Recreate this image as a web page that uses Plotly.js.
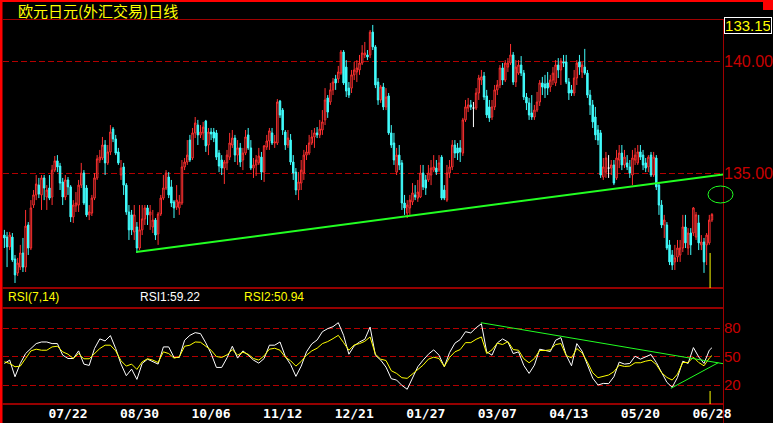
<!DOCTYPE html>
<html>
<head>
<meta charset="utf-8">
<script src="https://cdn.plot.ly/plotly-3.0.1.min.js"></script>
<style>
html,body{margin:0;padding:0;background:#000;}
#chart{width:773px;height:423px;}
</style>
</head>
<body>
<div id="chart"></div>
<script>
// ---------------- data ----------------
const title = '欧元日元(外汇交易)日线';
const lastPriceLabel = '133.15';
const tickIdx = [24, 51, 78, 105, 132, 159, 186, 213, 240, 267];
const tickLabels = ['07/22','08/30','10/06','11/12','12/21','01/27','03/07','04/13','05/20','06/28'];

const open = [
132.23,132.14,131.70,132.14,131.16,130.54,130.80,131.43,130.80,132.68,
131.65,133.57,134.02,134.46,134.02,134.78,133.93,134.33,133.93,135.13,
135.54,135.31,134.60,133.93,134.69,134.38,133.04,133.53,133.57,134.46,
135.00,134.33,133.13,133.21,133.88,134.78,135.58,135.67,136.25,135.45,
135.94,136.96,136.52,135.94,134.91,135.27,134.46,133.26,133.13,132.37,
132.59,131.65,132.46,132.95,133.44,133.13,132.59,132.90,132.28,133.17,
133.88,134.33,134.82,134.38,133.71,133.48,133.44,133.66,135.27,135.49,
136.47,135.67,136.79,137.14,136.70,136.79,137.32,136.25,136.83,136.83,
136.79,135.89,135.58,135.22,135.45,135.71,136.25,136.56,135.80,136.12,
135.58,135.89,136.70,136.12,135.22,135.36,135.45,135.71,135.04,136.16,
136.43,136.79,136.34,136.34,138.21,137.81,136.83,136.25,136.47,135.49,
135.04,134.24,134.55,135.00,135.80,135.89,136.34,136.61,136.79,136.70,
136.92,137.37,138.35,138.17,138.71,139.20,139.20,139.46,140.40,139.73,
138.79,138.79,139.38,139.51,139.60,139.91,140.27,140.27,140.27,141.29,
140.63,139.06,138.26,138.84,137.95,138.44,136.79,136.34,135.04,135.80,
135.45,133.66,133.21,133.44,133.71,134.02,133.88,133.93,135.00,134.69,
134.69,134.91,135.13,135.22,135.13,135.71,134.24,133.79,135.00,135.27,
136.25,136.12,136.12,135.89,137.37,137.90,138.04,137.90,137.90,138.57,
139.15,139.33,138.44,137.95,137.50,137.95,138.71,138.93,139.69,139.15,
139.73,139.91,140.27,139.06,139.46,139.82,139.46,138.39,138.13,137.68,
137.50,137.81,138.17,139.02,138.97,139.02,138.84,139.15,139.02,139.82,
139.60,139.96,139.96,139.06,138.71,138.57,139.24,139.96,139.51,139.73,
139.46,138.48,138.04,137.50,136.92,136.79,134.82,135.04,135.22,135.22,
135.36,134.78,135.58,135.89,135.36,135.45,135.27,134.91,135.58,135.45,
135.94,135.80,135.45,135.27,135.80,134.91,135.67,134.46,133.57,132.68,
132.68,131.79,131.34,131.03,131.25,131.34,131.65,132.59,131.65,132.32,
132.32,132.14,132.77,131.79,131.92,131.79,131.88,132.90];

const high = [
132.46,132.37,132.37,132.32,131.34,131.21,131.79,132.10,133.35,132.81,
133.79,134.24,134.91,134.78,134.91,134.91,134.46,134.91,135.36,135.76,
135.80,135.45,134.78,134.91,134.82,134.46,133.79,134.15,134.69,135.45,
135.13,134.46,133.57,134.02,135.00,135.80,136.03,136.61,136.47,136.25,
137.14,137.05,136.70,136.12,135.58,135.45,134.55,133.57,133.35,133.57,
132.81,133.57,133.57,133.57,133.57,133.57,133.35,132.99,133.26,134.02,
134.91,135.13,135.04,134.69,133.79,134.46,134.02,135.58,135.67,136.47,
136.70,137.01,137.50,137.37,137.14,137.28,137.37,137.01,137.01,137.01,
136.92,136.03,135.80,135.58,136.03,136.79,136.92,136.70,136.47,136.34,
136.12,136.92,137.01,136.47,135.67,135.80,136.12,135.94,136.25,136.70,
137.01,137.01,136.70,138.30,138.26,137.90,136.92,136.92,136.74,135.80,
135.22,135.04,135.58,136.03,136.25,136.70,136.92,137.01,137.05,137.37,
137.81,138.79,138.48,139.02,139.24,139.38,139.78,140.49,140.49,140.04,
139.06,139.60,139.96,140.04,140.27,140.71,140.85,140.49,141.38,141.61,
140.71,139.24,138.93,139.02,138.79,138.57,137.14,136.79,136.12,136.25,
135.58,134.02,133.79,134.02,134.55,134.46,134.69,135.36,135.36,134.91,
135.36,135.58,135.80,135.58,135.80,135.80,134.46,135.36,135.58,136.47,
136.47,136.34,136.47,137.46,138.26,138.35,138.26,138.17,138.79,139.38,
139.60,139.51,138.71,138.26,138.26,138.93,139.15,139.82,139.91,140.04,
140.13,140.76,140.40,140.04,140.04,140.22,139.60,138.57,138.35,138.48,
138.04,138.62,139.15,139.29,139.38,139.51,139.38,139.73,140.04,140.13,
140.13,140.27,140.27,139.24,138.93,139.60,140.04,140.27,139.96,140.54,
139.60,138.71,138.26,137.95,137.14,136.92,135.67,135.94,135.80,135.58,
135.58,136.03,136.25,136.25,136.03,135.80,135.58,136.03,136.12,136.25,
136.25,136.03,135.67,135.80,135.94,135.94,135.80,134.60,133.79,133.13,
132.81,132.01,131.56,131.79,132.01,132.01,133.13,133.13,132.54,132.54,
133.48,133.26,133.13,132.23,132.10,132.32,133.13,133.21];

const low = [
131.65,130.80,131.56,131.03,130.09,130.40,130.67,130.58,130.58,131.34,
131.56,133.44,133.79,133.88,133.35,133.79,133.35,133.79,133.57,135.04,
135.04,134.24,133.57,133.79,134.02,132.81,132.77,133.26,133.26,134.33,
133.57,133.04,132.90,133.08,133.79,134.69,135.45,135.58,134.91,135.36,
135.80,136.38,135.80,135.36,134.69,134.02,133.13,132.01,132.23,132.01,
131.43,131.56,132.23,132.68,132.68,132.46,132.32,132.01,131.79,133.08,
133.79,134.24,133.88,133.48,132.99,133.35,133.13,133.57,135.13,135.36,
135.49,135.58,136.56,136.25,136.56,136.47,135.94,135.80,136.47,136.38,
135.58,135.04,134.91,134.51,135.13,135.58,136.12,135.49,135.36,135.27,
135.13,135.80,136.03,135.13,134.78,134.87,135.36,134.69,134.60,136.03,
136.03,136.25,136.12,136.25,137.46,136.70,136.03,136.12,135.36,134.69,
134.02,133.79,134.24,134.69,135.58,135.80,136.25,136.12,136.56,136.56,
136.70,137.14,137.46,138.04,138.48,138.71,139.02,139.38,138.93,138.39,
138.35,138.57,139.15,139.06,139.38,139.82,140.13,140.04,140.13,140.49,
138.79,138.04,138.13,137.81,137.81,136.70,136.12,135.36,134.91,135.13,
133.35,133.13,132.99,133.13,133.57,133.79,133.71,133.88,134.24,134.02,
134.60,134.46,135.04,134.91,135.04,133.79,133.79,133.71,134.78,135.13,
135.67,135.58,135.49,135.76,137.28,137.72,137.81,137.05,137.81,138.26,
138.93,138.26,137.46,137.28,137.37,137.81,138.48,138.79,138.93,139.06,
139.51,139.82,138.93,138.84,139.38,139.33,138.26,137.81,137.37,137.37,
137.37,137.72,137.99,138.48,138.35,138.48,138.62,138.93,138.88,139.24,
138.93,139.73,138.97,138.26,138.44,138.44,138.93,139.38,139.24,139.38,
138.35,137.59,137.01,136.47,136.25,134.78,134.69,134.78,134.78,134.91,
134.46,134.69,135.22,135.13,135.22,135.13,134.78,134.46,135.36,135.36,
135.58,135.13,135.04,135.04,134.82,134.82,134.24,133.13,132.54,132.10,
131.56,130.89,130.67,130.67,131.03,131.03,131.47,131.65,131.34,131.34,
132.19,132.01,131.56,131.56,130.54,130.89,131.79,132.81];

const close = [
132.10,131.70,132.23,131.12,130.45,130.98,131.43,130.80,132.63,131.65,
133.44,134.02,134.51,134.06,134.78,134.33,134.24,133.88,135.13,135.54,
135.27,134.55,133.93,134.69,134.38,133.04,133.57,133.66,134.46,135.00,
133.66,133.13,133.26,133.88,134.78,135.63,135.71,136.25,135.45,135.94,
136.83,136.52,135.89,135.45,135.22,134.46,133.26,132.46,132.46,133.13,
131.65,132.46,132.95,133.44,133.13,133.26,132.90,132.23,133.17,133.88,
134.33,135.00,134.02,133.66,133.44,133.79,133.71,135.27,135.49,135.80,
135.58,136.79,137.23,136.70,136.83,137.05,136.21,136.83,136.74,136.56,
135.71,135.31,135.22,135.49,135.80,136.34,136.56,135.80,136.12,135.49,
135.89,136.61,136.12,135.22,135.36,135.58,135.76,135.04,136.21,136.43,
136.88,136.34,136.38,138.17,137.59,136.92,136.25,136.56,135.49,135.00,
134.24,134.60,135.13,135.80,135.94,136.34,136.61,136.79,136.70,136.96,
137.28,138.26,137.72,138.71,139.06,139.02,139.51,140.40,139.02,138.66,
138.48,139.38,139.60,139.69,139.91,140.36,140.36,140.18,141.29,140.63,
138.93,138.26,138.84,137.95,138.39,136.79,136.25,135.58,135.80,135.36,
133.66,133.44,133.57,133.79,134.11,133.93,134.15,135.00,134.38,134.33,
135.00,135.22,135.27,135.04,135.45,133.88,133.88,135.00,135.27,136.25,
135.89,135.89,135.94,137.37,137.95,138.04,137.95,137.90,138.57,139.24,
139.29,138.39,137.59,137.46,137.95,138.71,138.93,139.69,139.15,139.91,
139.91,140.27,139.06,139.73,139.82,139.46,138.39,138.13,137.59,137.50,
137.81,138.17,139.02,138.84,138.79,138.79,139.15,139.46,139.82,139.60,
140.00,139.91,139.06,138.57,138.57,139.24,139.91,139.73,139.82,139.46,
138.48,138.04,137.28,136.70,136.47,134.91,135.27,135.67,135.22,135.36,
134.55,135.67,135.89,135.36,135.71,135.27,135.00,135.67,135.80,135.94,
135.71,135.36,135.22,135.71,134.91,135.71,134.38,133.57,132.68,132.90,
131.65,131.03,130.89,131.21,131.65,131.65,132.59,131.88,132.32,131.79,
133.44,133.13,131.88,131.92,131.03,132.23,132.90,133.15];

// RSI readings at every second session (last one at the final session)
const rsiIdx = [];
for (let k = 0; k <= 266; k += 2) rsiIdx.push(k);
rsiIdx.push(267);
const rsi1 = [
42.7,46.2,28.7,42.7,53.1,58.4,63.6,65.3,65.3,63.6,
63.6,51.4,47.9,47.9,55.9,42.0,40.6,58.4,68.5,66.4,
72.0,58.4,42.0,29.8,36.7,25.9,42.7,47.2,44.8,42.0,
60.1,60.1,49.0,49.0,67.1,72.3,75.1,74.1,64.3,53.1,
38.5,38.5,48.6,60.8,48.3,55.9,51.4,46.2,43.0,47.9,
61.9,61.9,65.3,50.0,41.6,29.1,39.9,54.9,63.3,67.4,
76.1,79.3,81.4,85.6,72.3,52.4,61.2,65.3,68.1,81.0,
51.4,46.2,38.8,26.6,25.2,19.6,15.5,26.6,39.2,46.2,
52.4,57.0,51.4,39.2,54.2,64.0,67.8,76.1,74.8,80.3,
84.5,54.9,51.4,64.3,68.5,65.3,53.1,54.9,40.6,32.2,
40.9,57.7,56.6,55.2,67.1,69.9,51.4,40.2,63.6,55.6,
41.3,27.3,20.0,21.7,21.4,28.7,44.1,42.0,42.7,50.3,
47.2,49.6,52.1,43.7,32.9,22.8,17.6,28.0,45.1,42.7,
59.4,49.6,42.7,56.6,59.22];
const rsi2 = [
44.4,42.7,39.2,39.9,47.9,55.9,57.7,56.6,56.6,60.1,
60.8,54.9,52.4,47.9,53.1,47.6,47.6,53.1,58.4,61.9,
61.9,55.9,45.5,39.9,42.0,36.4,44.4,47.6,46.2,43.7,
54.9,53.1,48.3,49.6,60.8,61.9,65.3,65.0,60.8,56.6,
50.0,49.0,51.7,57.3,51.4,54.5,52.4,47.9,46.2,50.7,
57.7,58.7,56.6,49.3,45.5,39.9,44.8,51.4,55.9,58.7,
63.6,65.7,68.8,72.3,64.6,56.6,62.2,63.6,66.0,70.6,
52.4,47.2,45.8,35.0,32.2,27.7,27.0,31.5,36.7,40.9,
47.2,49.3,47.9,39.5,49.0,54.9,57.3,64.6,64.6,68.1,
70.6,53.1,57.0,64.0,62.6,65.7,57.3,56.6,47.6,43.4,
47.9,56.3,56.3,57.0,62.6,63.6,51.0,48.6,58.4,53.8,
44.1,32.9,27.7,28.7,30.5,34.0,40.9,39.5,39.9,43.4,
43.4,45.1,46.2,41.6,32.9,28.0,25.2,31.5,43.7,43.7,
49.3,43.7,40.2,48.3,50.94];

// drawn trend lines
const trendX = [49.7, 272.3];
const trendY = [131.47, 134.955];
const rsiTrendX = [179.8, 272.6];
const rsiTrendY = [85.6, 41.8];
const rsiTrend2X = [251.5, 269.4];
const rsiTrend2Y = [16.5, 43.5];
const cursorIdx = 266.3;
const cursorPriceTop = 131.43;
const cursorRsiTop = 13.7;

// ---------------- layout geometry ----------------
const W = 773, H = 423, ML = 3, MR = 50, MT = 0, MB = 19;
const PW = W - ML - MR, PH = H - MT - MB;
const px = v => (v - ML) / PW;
const py = v => 1 - (v - MT) / PH;

const RED = '#ff0000', DRED = '#a00000', MRED = '#c80000';
const UPC = '#ff3030', DNC = '#40fcfc';

const all = close.map((_, i) => i);
const norm = all.filter(i => open[i] !== close[i]);
const doji = all.filter(i => open[i] === close[i]);
const pick = (arr, ids) => ids.map(i => arr[i]);

const data = [
  {type:'candlestick', x: norm, open: pick(open,norm), high: pick(high,norm), low: pick(low,norm), close: pick(close,norm),
   xaxis:'x', yaxis:'y', whiskerwidth:0,
   increasing:{line:{color:UPC,width:1}, fillcolor:'#000000'},
   decreasing:{line:{color:DNC,width:1}, fillcolor:DNC}, hoverinfo:'skip'},
  {type:'candlestick', x: doji, open: pick(open,doji), high: pick(high,doji), low: pick(low,doji), close: pick(close,doji),
   xaxis:'x', yaxis:'y', whiskerwidth:0,
   increasing:{line:{color:'#ffffff',width:1}, fillcolor:'#ffffff'},
   decreasing:{line:{color:'#ffffff',width:1}, fillcolor:'#ffffff'}, hoverinfo:'skip'},
  {type:'scatter', mode:'lines', x: trendX, y: trendY, xaxis:'x', yaxis:'y',
   line:{color:'#22ff22', width:2}, hoverinfo:'skip'},
  {type:'scatter', mode:'lines', x: rsiIdx, y: rsi1, xaxis:'x', yaxis:'y2',
   line:{color:'#ffffff', width:1}, hoverinfo:'skip'},
  {type:'scatter', mode:'lines', x: rsiIdx, y: rsi2, xaxis:'x', yaxis:'y2',
   line:{color:'#ffff00', width:1}, hoverinfo:'skip'},
  {type:'scatter', mode:'lines', x: rsiTrendX, y: rsiTrendY, xaxis:'x', yaxis:'y2',
   line:{color:'#22ff22', width:1}, hoverinfo:'skip'},
  {type:'scatter', mode:'lines', x: rsiTrend2X, y: rsiTrend2Y, xaxis:'x', yaxis:'y2',
   line:{color:'#22ff22', width:1}, hoverinfo:'skip'}
];

const gridStyle = {showgrid:true, gridcolor:'#b40000', griddash:'6px,3px', gridwidth:1,
  zeroline:false, showline:false, ticks:'', side:'right', fixedrange:true};

const layout = {
  width: W, height: H,
  margin: {l:ML, r:MR, t:MT, b:MB, pad:0},
  paper_bgcolor:'#000000', plot_bgcolor:'#000000',
  showlegend:false, hovermode:false, dragmode:false,
  boxgap: 0.2,
  xaxis: {anchor:'y2', domain:[0,1], range:[-0.53, 271.17], type:'linear',
    tickmode:'array', tickvals: tickIdx, ticktext: tickLabels,
    showgrid:false, zeroline:false, showline:false, ticks:'',
    tickfont:{family:'DejaVu Sans Mono', size:13, color:'#ffffff', weight:'bold'},
    rangeslider:{visible:false}, fixedrange:true},
  yaxis: Object.assign({}, gridStyle, {anchor:'x', domain:[py(288), py(19)], range:[129.866, 141.875],
    tickmode:'array', tickvals:[135,140], ticktext:['135.00','140.00'],
    tickfont:{family:'Liberation Sans', size:16, color:MRED}}),
  yaxis2: Object.assign({}, gridStyle, {anchor:'x', domain:[0, py(309)], range:[0,100],
    tickmode:'array', tickvals:[20,50,80], ticktext:['20','50','80'],
    tickfont:{family:'Liberation Sans', size:15, color:MRED}}),
  shapes: [
    {type:'rect', xref:'paper', yref:'paper', x0:px(0), x1:px(773), y0:py(0), y1:py(2), fillcolor:RED, line:{width:0}, layer:'above'},
    {type:'rect', xref:'paper', yref:'paper', x0:px(0), x1:px(2.5), y0:py(0), y1:py(423), fillcolor:RED, line:{width:0}, layer:'above'},
    {type:'rect', xref:'paper', yref:'paper', x0:px(763), x1:px(773), y0:py(0), y1:py(10), fillcolor:RED, line:{width:0}, layer:'above'},
    {type:'line', xref:'paper', yref:'paper', x0:px(2.5), x1:px(723), y0:py(19.5), y1:py(19.5), line:{color:DRED, width:1}},
    {type:'line', xref:'paper', yref:'paper', x0:px(2.5), x1:px(723), y0:py(288), y1:py(288), line:{color:MRED, width:1.5}},
    {type:'line', xref:'paper', yref:'paper', x0:px(2.5), x1:px(723), y0:py(308), y1:py(308), line:{color:MRED, width:1.5}},
    {type:'line', xref:'paper', yref:'paper', x0:px(2.5), x1:px(723), y0:py(404), y1:py(404), line:{color:MRED, width:1.5}},
    {type:'line', xref:'paper', yref:'paper', x0:px(723.5), x1:px(723.5), y0:py(19), y1:py(423), line:{color:DRED, width:1}},
    {type:'circle', xref:'paper', yref:'paper', x0:px(708), x1:px(733), y0:py(203), y1:py(186), line:{color:'#22ff22', width:1}},
    {type:'line', xref:'x', yref:'y', x0:cursorIdx, x1:cursorIdx, y0:cursorPriceTop, y1:129.866, line:{color:'#ffff00', width:1}},
    {type:'line', xref:'x', yref:'y2', x0:cursorIdx, x1:cursorIdx, y0:cursorRsiTop, y1:0, line:{color:'#ffff00', width:1}}
  ],
  annotations: [
    {xref:'paper', yref:'paper', x:px(17), y:py(10), xanchor:'left', yanchor:'middle', showarrow:false,
     text:title, font:{family:'Noto Sans CJK SC', size:15, color:'#ffff00'}, borderpad:0},
    {xref:'paper', yref:'paper', x:px(748), y:py(25), xanchor:'center', yanchor:'middle', showarrow:false,
     text:lastPriceLabel, font:{family:'Liberation Sans', size:15, color:'#ffff00'},
     bordercolor:'#ffffff', borderwidth:1, borderpad:1, width:44, height:13},
    {xref:'paper', yref:'paper', x:px(6), y:py(297), xanchor:'left', yanchor:'middle', showarrow:false,
     text:'RSI(7,14)', font:{family:'Liberation Sans', size:12, color:'#ffff00'}},
    {xref:'paper', yref:'paper', x:px(169.5), y:py(297), xanchor:'center', yanchor:'middle', showarrow:false,
     text:'RSI1:' + rsi1[rsi1.length-1].toFixed(2), font:{family:'Liberation Sans', size:12, color:'#ffffff'}},
    {xref:'paper', yref:'paper', x:px(274), y:py(297), xanchor:'center', yanchor:'middle', showarrow:false,
     text:'RSI2:' + rsi2[rsi2.length-1].toFixed(2), font:{family:'Liberation Sans', size:12, color:'#ffff00'}}
  ]
};

Plotly.newPlot('chart', data, layout, {staticPlot:true, displayModeBar:false});
</script>
</body>
</html>
